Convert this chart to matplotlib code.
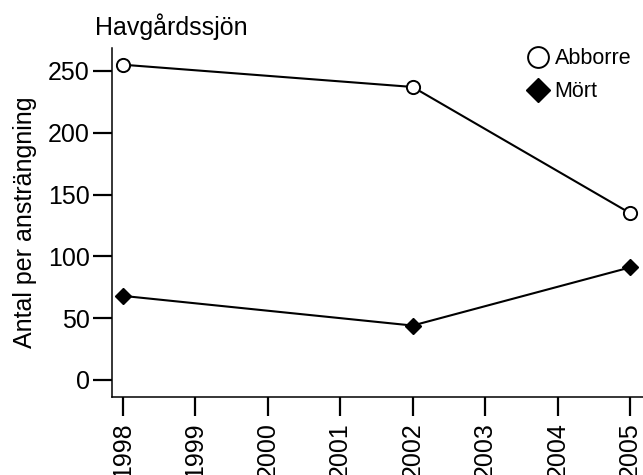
import matplotlib.pyplot as plt
from matplotlib.lines import Line2D

plt.rcParams['font.family'] = ['Liberation Sans', 'DejaVu Sans']

years = [1998, 2002, 2005]
abborre = [255, 237, 135]
mort = [68, 44, 91]
xticks = list(range(1998, 2006))
yticks = [0, 50, 100, 150, 200, 250]

fig = plt.figure(figsize=(6.43, 4.75), dpi=100)
ax = fig.add_axes([0.1742, 0.1642, 0.8258, 0.7347])

ax.plot(years, abborre, color='black', lw=1.5, marker='o', ms=9.5,
        mfc='white', mec='black', mew=1.4)
ax.plot(years, mort, color='black', lw=1.5, marker='D', ms=8.5,
        mfc='black', mec='black')

ax.set_xlim(1997.85, 2005.18)
ax.set_ylim(-13.8, 268.5)
ax.set_xticks(xticks)
ax.set_xticklabels([str(y) for y in xticks], rotation=90)
ax.set_yticks(yticks)
for s in ['top', 'right']:
    ax.spines[s].set_visible(False)
for s in ['left', 'bottom']:
    ax.spines[s].set_linewidth(1.1)
ax.tick_params(labelsize=18, length=14, width=1.6, direction='out')
ax.tick_params(axis='y', pad=2)
ax.tick_params(axis='x', pad=4)
ax.set_ylabel('Antal per ansträngning', fontsize=18)
ax.yaxis.set_label_coords(-0.141, 0.5)

fig.text(0.148, 0.926, 'Havgårdssjön', fontsize=18, ha='left', va='baseline')

handles = [
    Line2D([], [], ls='none', marker='o', ms=15, mfc='white', mec='black', mew=1.4),
    Line2D([], [], ls='none', marker='D', ms=12.5, mfc='black', mec='black'),
]
fig.legend(handles, ['Abborre', 'Mört'], loc='upper right', bbox_to_anchor=(1.005, 0.93),
           frameon=False, fontsize=15.5, handletextpad=0.25, labelspacing=0.55,
           handlelength=1.0, borderaxespad=0.3)

fig.savefig('out.png', dpi=100)
